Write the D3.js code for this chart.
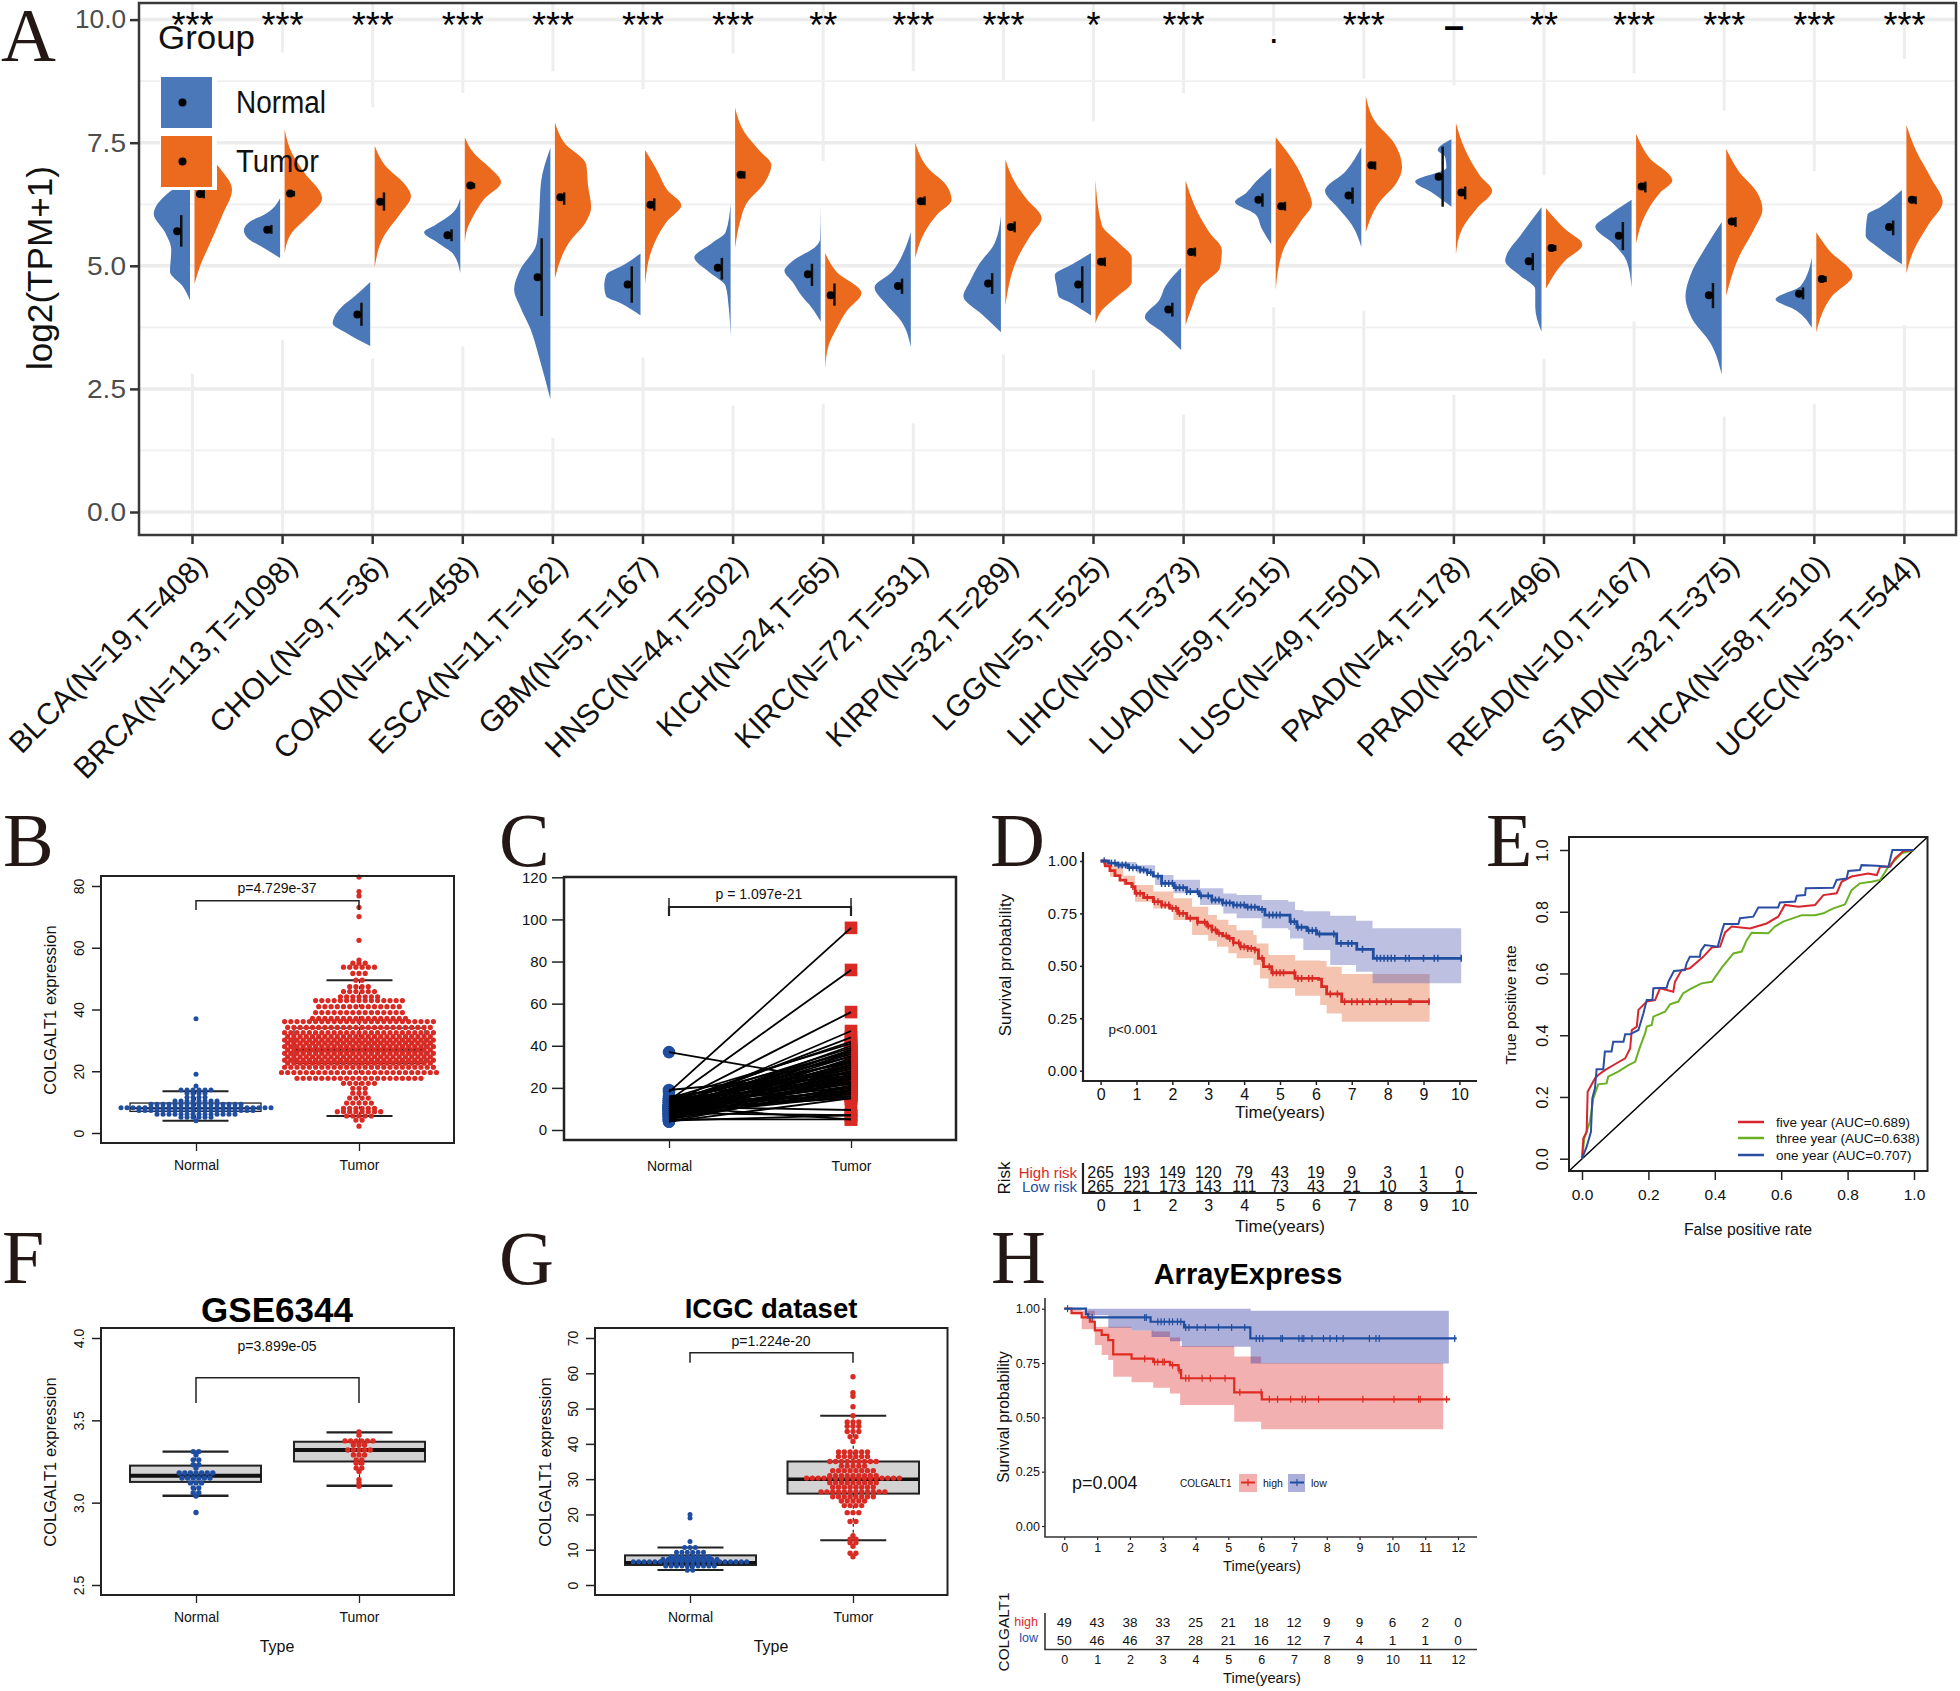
<!DOCTYPE html>
<html><head><meta charset="utf-8">
<script src="https://cdn.jsdelivr.net/npm/d3@7/dist/d3.min.js"></script>
<style>html,body{margin:0;padding:0;background:#fff}svg{display:block;font-family:"Liberation Sans",Arial,sans-serif}</style>
</head><body>
<script>
// ---------- Panel A data ----------
const cancers=["BLCA(N=19,T=408)","BRCA(N=113,T=1098)","CHOL(N=9,T=36)","COAD(N=41,T=458)","ESCA(N=11,T=162)","GBM(N=5,T=167)","HNSC(N=44,T=502)","KICH(N=24,T=65)","KIRC(N=72,T=531)","KIRP(N=32,T=289)","LGG(N=5,T=525)","LIHC(N=50,T=373)","LUAD(N=59,T=515)","LUSC(N=49,T=501)","PAAD(N=4,T=178)","PRAD(N=52,T=496)","READ(N=10,T=167)","STAD(N=32,T=375)","THCA(N=58,T=510)","UCEC(N=35,T=544)"];
const signif=["***","***","***","***","***","***","***","**","***","***","*","***",".","***","–","**","***","***","***","***"];
const signifLevel=[10,10,10,10,10,10,10,10,10,10,10,10,9.9,10,10,10,10,10,10,10];
const normalMean=[5.70,5.73,4.01,5.62,4.77,4.62,4.96,4.83,4.59,4.64,4.62,4.11,6.34,6.43,6.81,5.09,5.61,4.40,4.43,5.79];
const normalLow=[5.39,5.65,3.78,5.50,3.98,4.25,4.72,4.59,4.43,4.43,4.25,3.97,6.20,6.26,6.20,4.91,5.32,4.14,4.32,5.62];
const normalHigh=[6.03,5.83,4.25,5.74,5.56,4.99,5.16,5.04,4.74,4.85,4.99,4.25,6.47,6.59,7.42,5.26,5.89,4.65,4.56,5.92];
const tumorMean=[6.46,6.47,6.30,6.63,6.39,6.24,6.85,4.40,6.31,5.79,5.08,5.28,6.21,7.04,6.49,5.36,6.61,5.90,4.73,6.34];
const tumorLow=[6.37,6.41,6.12,6.57,6.24,6.12,6.77,4.19,6.23,5.68,4.99,5.19,6.12,6.95,6.35,5.30,6.49,5.79,4.67,6.25];
const tumorHigh=[6.55,6.52,6.49,6.68,6.49,6.37,6.92,4.64,6.41,5.90,5.17,5.37,6.30,7.12,6.61,5.42,6.71,5.99,4.79,6.41];
const gridGapTop=[9.93,9.33,8.22,8.51,8.95,8.59,9.31,7.13,8.95,8.77,7.93,8.51,9.67,8.8,8.66,6.84,8.91,8.15,6.92,9.2];
const gridGapBottom=[2.81,3.5,3.11,3.36,1.51,3.14,2.16,2.2,1.8,3.2,2.89,1.98,4.16,4.09,2.38,3.11,3.87,1.94,2.2,3.8];
// density profiles: [log2(TPM+1), relative density]
const normalProfiles=[
[[6.77,0],[6.48,35],[6.05,58],[5.68,40],[5.32,30],[4.88,32],[4.59,12],[4.30,0]],
[[6.37,0],[6.04,25],[5.90,48],[5.72,58],[5.54,50],[5.39,30],[5.16,0]],
[[4.67,0],[4.38,25],[4.16,46],[3.83,60],[3.65,40],[3.37,0]],
[[6.37,0],[6.04,15],[5.83,40],[5.68,58],[5.46,35],[5.25,12],[4.85,0]],
[[7.39,0],[6.70,15],[6.04,18],[5.46,22],[4.88,50],[4.52,58],[4.16,48],[3.72,32],[3.14,18],[2.29,0]],
[[5.25,0],[5.03,25],[4.81,55],[4.59,58],[4.38,55],[4.23,30],[3.99,0]],
[[6.26,0],[5.68,8],[5.46,30],[5.17,58],[4.88,35],[4.59,8],[4.16,3],[3.56,0]],
[[6.23,0],[5.54,1],[5.39,8],[5.10,45],[4.90,58],[4.67,45],[4.38,30],[4.16,15],[3.87,0]],
[[5.68,0],[5.32,10],[4.88,30],[4.56,58],[4.23,40],[3.87,15],[3.35,0]],
[[6.01,0],[5.46,10],[5.03,35],[4.67,50],[4.38,60],[4.01,30],[3.65,0]],
[[5.26,0],[5.03,30],[4.81,58],[4.59,55],[4.38,52],[4.23,30],[3.99,0]],
[[4.96,0],[4.59,25],[4.30,35],[3.96,58],[3.65,30],[3.29,0]],
[[6.99,0],[6.70,25],[6.48,40],[6.30,58],[6.04,25],[5.75,15],[5.44,0]],
[[7.41,0],[6.92,25],[6.52,58],[6.19,38],[5.83,15],[5.38,0]],
[[7.57,0],[7.35,22],[7.21,10],[6.99,8],[6.71,58],[6.48,30],[6.20,0]],
[[6.19,0],[5.68,30],[5.10,58],[4.81,35],[4.52,10],[4.16,10],[3.66,0]],
[[6.34,0],[6.04,35],[5.79,58],[5.46,30],[5.10,8],[4.56,0]],
[[5.89,0],[5.39,25],[4.81,50],[4.38,58],[3.94,48],[3.43,18],[2.79,0]],
[[5.17,0],[4.59,18],[4.32,58],[4.09,25],[3.74,0]],
[[6.54,0],[6.19,35],[6.04,55],[5.61,58],[5.39,40],[5.03,0]]];
const tumorProfiles=[
[[7.53,0],[6.99,40],[6.55,60],[6.04,45],[5.46,25],[5.03,10],[4.63,0]],
[[7.77,0],[7.28,12],[6.92,30],[6.37,60],[5.97,35],[5.68,12],[5.25,0]],
[[7.44,0],[6.99,20],[6.70,45],[6.41,58],[6.04,40],[5.61,15],[4.97,0]],
[[7.61,0],[7.28,15],[6.99,40],[6.70,58],[6.34,30],[6.04,15],[5.75,4],[5.46,0]],
[[7.91,0],[7.50,15],[7.06,50],[6.63,53],[6.19,58],[5.90,50],[5.46,22],[4.74,0]],
[[7.35,0],[6.92,20],[6.55,35],[6.23,58],[5.90,35],[5.46,15],[4.63,0]],
[[8.21,0],[7.71,15],[7.35,38],[7.05,58],[6.70,48],[6.26,18],[5.90,8],[5.36,0]],
[[5.26,0],[4.88,18],[4.45,58],[4.09,35],[3.72,18],[3.36,5],[2.91,0]],
[[7.50,0],[6.99,20],[6.63,50],[6.34,58],[6.04,35],[5.68,15],[5.16,0]],
[[7.16,0],[6.70,15],[6.34,35],[5.97,58],[5.61,40],[5.17,20],[4.19,0]],
[[6.75,0],[5.83,10],[5.46,38],[5.17,58],[4.67,58],[4.38,35],[4.09,10],[3.83,0]],
[[6.73,0],[6.12,18],[5.68,38],[5.32,58],[4.96,55],[4.59,25],[4.16,10],[3.80,0]],
[[7.61,0],[6.99,35],[6.63,48],[6.26,58],[5.90,40],[5.32,12],[4.51,0]],
[[8.45,0],[7.93,15],[7.50,45],[6.99,58],[6.70,50],[6.26,20],[5.68,0]],
[[7.90,0],[7.35,15],[6.84,38],[6.52,58],[6.19,35],[5.75,10],[5.23,0]],
[[6.17,0],[5.75,30],[5.43,58],[5.10,30],[4.54,0]],
[[7.68,0],[7.21,20],[6.73,58],[6.48,38],[6.04,15],[5.46,0]],
[[7.37,0],[6.92,20],[6.48,50],[6.15,58],[5.75,45],[5.17,20],[4.39,0]],
[[5.68,0],[5.32,20],[4.81,58],[4.38,25],[3.65,0]],
[[7.86,0],[7.35,15],[6.77,40],[6.30,58],[5.83,35],[5.32,12],[4.85,0]]];
const aTicks=[0,2.5,5,7.5,10];
const aMinor=[1.25,3.75,6.25,8.75];
// ---------- Panel B ---------- [value, number of dots in the row]
const bNormalRows=[[37,1],[19,1],[15.2,1],[13.9,6],[12.9,4],[11.6,4],[10.4,8],[9.3,16],[8.2,26],[7.3,20],[6.1,14],[5.1,6],[4,1]];
const bTumorRows=[[82.9,1],[78.2,1],[76.8,1],[73.1,1],[70.1,1],[62.4,1],[56,1],[55,3],[53.7,6],[51.7,3],[49.5,2],[47.4,4],[45.8,6],[44.1,7],[42.9,15],[40.9,14],[39,15],[37.1,16],[36.1,25],[34.2,24],[32.5,25],[31.2,24],[30.1,25],[29.1,24],[28,25],[26.9,24],[25.8,25],[24.7,24],[23.6,25],[22.6,24],[21.3,25],[19.6,26],[17.7,21],[16.1,6],[14.5,3],[12.9,3],[11.3,4],[9.7,5],[8,6],[6.9,8],[5.5,5],[4.2,2],[2.2,1]];
const bBoxNormal={q1:7,med:8,q3:9.7,lo:4,hi:13.5};
const bBoxTumor={q1:22.5,med:27,q3:34,lo:5.5,hi:49.5};
// ---------- Panel C ----------
const cNormal=[18,14,12,10,11,13,15,9,12,8,10,14,7,11,9,13,6,12,10,8,15,5,11,9,13,7,12,10,6,37,19,14,8,11,16,5,9,13,7,10,12,6,8,11,15,4,9,13,7,10,5,12,6,8,11,9,14,7,4,10,11,8,4.5,11,5];
const cTumor=[96,76,56,47,44,42,41,40,39,38,38,37,37,36,35,35,34,33,33,32,32,31,31,30,30,29,29,28,28,22,27,27,26,26,26,25,25,25,24,24,23,23,22,22,22,21,21,20,20,19,19,18,18,17,17,16,16,16,15,15,9.5,7,7,5,5];
// ---------- Panel D ----------
const dHighT=[0,.13,.26,.4,.54,.7,.87,.96,1.2,1.47,1.7,1.93,2.15,2.4,2.7,2.96,3.1,3.24,3.4,3.56,3.7,3.89,4.1,4.3,4.4,4.54,4.77,5.42,6.07,6.16,6.3,6.72,9.18];
const dHighS=[1,.977,.954,.93,.909,.893,.878,.846,.826,.806,.79,.774,.75,.727,.708,.69,.672,.655,.643,.631,.61,.591,.583,.576,.536,.496,.467,.44,.436,.401,.366,.329,.329];
const dLowT=[0,.22,.448,.77,1.1,1.3,1.47,1.7,2.05,2.4,2.75,3.1,3.4,3.7,4.05,4.4,4.58,5.28,5.47,5.75,6.02,6.58,7.14,7.6,10.07];
const dLowS=[1,.99,.981,.968,.957,.945,.928,.893,.873,.854,.834,.814,.80,.79,.78,.769,.742,.711,.684,.668,.652,.607,.579,.536,.536];
const dHighCiT=[0,.26,.63,.96,1.47,2.03,2.55,3,3.24,3.56,3.79,4.26,4.35,4.44,4.68,5.42,6.12,6.3,6.72,9.17];
const dHighUp=[1,.98,.93,.886,.854,.822,.782,.742,.72,.695,.67,.647,.607,.607,.552,.525,.523,.496,.461,.461];
const dHighLo=[1,.925,.885,.806,.774,.719,.647,.62,.591,.56,.536,.504,.504,.44,.393,.358,.313,.273,.234,.234];
const dLowCiT=[0,.5,1,1.52,2.03,2.77,3.42,3.79,4.49,5.23,5.28,5.42,5.65,6.4,7.12,7.58,10.05];
const dLowUp=[1,.995,.98,.933,.91,.87,.845,.838,.814,.806,.806,.766,.76,.739,.715,.679,.679];
const dLowLo=[1,.965,.945,.886,.846,.79,.75,.727,.679,.671,.631,.631,.576,.504,.472,.417,.417];
const dHighCens=[.9,1,1.1,1.3,1.5,1.6,1.7,1.8,1.9,2,2.1,2.2,2.3,2.5,2.7,2.9,3,3.1,3.2,3.3,3.5,3.6,3.7,3.85,3.9,4,4.1,4.2,4.3,4.5,4.7,4.8,4.9,5,5.1,5.4,5.5,5.6,5.8,5.9,6.4,6.6,6.8,7,7.15,7.3,7.5,7.7,7.95,8.1,8.6,8.65,9.15];
const dLowCens=[.1,.3,.4,.5,.6,.7,.8,.9,1,1.1,1.2,1.3,1.4,1.6,1.7,1.8,1.9,2,2.1,2.2,2.3,2.4,2.5,2.7,2.8,3,3.1,3.2,3.3,3.4,3.5,3.6,3.7,3.8,3.9,4,4.1,4.2,4.3,4.5,4.7,4.8,4.9,5,5.3,5.4,5.5,5.6,5.8,5.9,6,6.1,6.5,6.7,6.9,7,7.3,7.7,7.8,7.9,8,8.1,8.2,8.5,8.6,9,9.3,9.4,10.05];
const dRiskHigh=[265,193,149,120,79,43,19,9,3,1,0];
const dRiskLow=[265,221,173,143,111,73,43,21,10,3,1];
// ---------- Panel E ----------
const rocOneX=[0,.014,.027,.031,.039,.044,.064,.069,.089,.094,.125,.13,.145,.17,.185,.195,.212,.215,.255,.26,.277,.31,.315,.325,.355,.358,.37,.409,.421,.428,.471,.476,.516,.531,.591,.596,.642,.647,.672,.674,.757,.767,.797,.802,.837,.842,.888,.923,.935,1];
const rocOneY=[0,.039,.087,.195,.228,.29,.29,.347,.347,.379,.379,.403,.403,.417,.471,.514,.514,.552,.554,.573,.608,.611,.633,.654,.654,.673,.692,.687,.735,.76,.76,.779,.784,.814,.814,.83,.833,.852,.854,.876,.878,.903,.908,.932,.935,.951,.949,.946,1,1];
const rocFiveX=[0,.004,.014,.017,.039,.049,.069,.099,.13,.145,.15,.165,.17,.195,.22,.235,.275,.28,.30,.325,.365,.391,.416,.431,.451,.506,.556,.591,.611,.652,.702,.727,.767,.782,.812,.862,.888,.898,.928,.943,.968,1];
const rocFiveY=[0,.066,.087,.217,.26,.271,.287,.306,.325,.357,.417,.428,.482,.509,.514,.552,.541,.573,.611,.617,.654,.684,.687,.733,.752,.746,.762,.784,.822,.816,.822,.854,.86,.897,.914,.924,.919,.946,.946,.973,.997,1];
const rocThreeX=[0,.007,.024,.034,.049,.074,.079,.109,.14,.16,.175,.19,.195,.21,.215,.25,.265,.29,.305,.33,.36,.391,.421,.456,.481,.496,.511,.561,.581,.606,.662,.702,.727,.757,.792,.812,.837,.872,.898,.923,.963,1];
const rocThreeY=[0,.066,.12,.195,.241,.244,.266,.282,.303,.314,.363,.406,.428,.433,.46,.476,.5,.509,.536,.552,.568,.573,.619,.665,.671,.708,.732,.73,.752,.768,.789,.789,.795,.811,.824,.87,.892,.897,.903,.946,.989,1];
const rocLabels=["five year (AUC=0.689)","three year (AUC=0.638)","one year (AUC=0.707)"];
// ---------- Panel F ----------
const fNormalRows=[[3.31,2],[3.29,1],[3.26,2],[3.23,2],[3.21,1],[3.18,7],[3.15,6],[3.12,3],[3.09,2],[3.06,2],[3.04,1],[2.94,1]];
const fTumorRows=[[3.43,1],[3.41,1],[3.375,6],[3.35,3],[3.32,5],[3.29,3],[3.26,2],[3.24,2],[3.21,2],[3.19,1],[3.14,1],[3.12,1],[3.1,1]];
const fBoxNormal={q1:3.126,med:3.164,q3:3.225,lo:3.042,hi:3.31};
const fBoxTumor={q1:3.25,med:3.32,q3:3.37,lo:3.103,hi:3.427};
// ---------- Panel G ----------
const gNormalRows=[[20,1],[19,1],[12.3,1],[10.6,3],[9.3,6],[8,8],[7.3,11],[6.6,22],[5.4,10],[4.2,2]];
const gTumorRows=[[59,1],[54.5,1],[53.5,1],[50.5,1],[48,1],[46.2,3],[45,3],[43.5,3],[42,2],[40.7,1],[37.7,6],[36.4,6],[35,9],[33.7,5],[32.4,8],[31,9],[30.3,17],[29,9],[27.7,8],[26.4,12],[25,8],[23.8,5],[22.5,4],[20.5,3],[18,2],[14,1],[13,2],[12,2],[11,1],[9,2],[8,1]];
const gBoxNormal={q1:5.67,med:6.4,q3:8.4,lo:4.25,hi:10.6};
const gBoxTumor={q1:25.9,med:30,q3:35,lo:12.7,hi:48};
// ---------- Panel H ----------
const hHighT=[0,.22,.53,.78,.93,1.14,1.34,1.49,2.05,2.71,3.22,3.48,3.56,5.18,6.02,11.76];
const hHighS=[1,.98,.96,.94,.90,.88,.855,.79,.77,.755,.74,.717,.68,.615,.583,.583];
const hLowT=[0,.66,.73,2.63,3.65,5.67,11.96];
const hLowS=[1,.975,.96,.94,.914,.863,.863];
const hHighCiT=[0,.22,.53,.93,1.14,1.34,1.49,2.05,2.71,3.22,3.53,5.18,6,11.55];
const hHighUp=[1,1,.99,.917,.917,.917,.917,.90,.895,.868,.828,.78,.75,.75];
const hHighLo=[1,.975,.905,.833,.787,.764,.687,.661,.636,.61,.557,.48,.445,.445];
const hLowCiT=[0,.7,1.34,2.05,2.66,3.22,3.58,5.68,11.72];
const hLowUp=[1,1,1,1,1,1,1,.99,.99];
const hLowLo=[1,.97,.912,.90,.87,.85,.825,.748,.748];
const hHighCens=[2.45,2.75,2.85,3,3.05,3.3,3.5,3.7,3.8,4.2,4.45,4.9,5.35,6,6.25,6.5,6.9,7.25,7.35,7.75,9.1,10.05,10.8,10.85,11.65];
const hLowCens=[.1,.85,2.45,2.5,2.85,2.95,3.05,3.2,3.3,3.45,3.55,3.7,3.8,4.05,4.3,4.7,5.1,5.5,5.85,5.95,6.05,6.6,6.65,7.15,7.25,7.3,7.55,7.9,8.1,8.3,8.5,9.3,9.5,9.6,11.9];
const hRiskHigh=[49,43,38,33,25,21,18,12,9,9,6,2,0];
const hRiskLow=[50,46,46,37,28,21,16,12,7,4,1,1,0];

// ---------- helpers ----------
const RED="#d92a24",BLUE="#1f4ea1",BLUEA="#4a78b8",ORANGE="#ec6a1e";
const svg=d3.select("body").append("svg").attr("width",1960).attr("height",1691);
function txt(x,y,s,o={}){
  const t=svg.append("text").attr("x",x).attr("y",y).text(s)
    .attr("font-size",o.size||14).attr("text-anchor",o.anchor||"middle")
    .attr("dominant-baseline",o.base||"central").attr("fill",o.fill||"#111");
  if(o.weight)t.attr("font-weight",o.weight);
  if(o.family)t.attr("font-family",o.family);
  if(o.rot!==undefined)t.attr("transform",`rotate(${o.rot},${x},${y})`);
  if(o.len)t.attr("textLength",o.len).attr("lengthAdjust","spacingAndGlyphs");
  return t;
}
function letter(x,y,s){txt(x,y,s,{size:76,anchor:"start",base:"alphabetic",family:"'Liberation Serif',serif",fill:"#231815"});}
function styleAxis(g,o={}){
  g.selectAll("path.domain").remove();
  g.selectAll("line").attr("stroke",o.color||"#222").attr("stroke-width",o.w||1.5);
  g.selectAll("text").attr("font-size",o.size||14).attr("fill",o.fill||"#111").attr("font-family","'Liberation Sans',sans-serif");
}
function frame(x0,x1,y0,y1,w,c){svg.append("rect").attr("x",x0).attr("y",y0).attr("width",x1-x0).attr("height",y1-y0).attr("fill","none").attr("stroke",c||"#222").attr("stroke-width",w||2);}
function rotTicks(g,offset){g.selectAll("text").attr("x",0).attr("dy",null).attr("text-anchor","middle").attr("dominant-baseline","central").attr("transform",`translate(${-offset},0) rotate(-90)`);}
function swarm(rows,cx,dx){const p=[];rows.forEach(([v,c])=>{d3.range(c).forEach(j=>p.push({v,x:cx+(j-(c-1)/2)*dx}));});return p;}
function boxplot(y,b,x0,x1,capw,o={}){
  const cx=(x0+x1)/2,g=svg.append("g").attr("stroke","#222");
  g.append("line").attr("x1",cx).attr("x2",cx).attr("y1",y(b.hi)).attr("y2",y(b.lo)).attr("stroke-dasharray","3,3").attr("stroke-width",1.2);
  g.append("rect").attr("x",x0).attr("width",x1-x0).attr("y",y(b.q3)).attr("height",y(b.q1)-y(b.q3)).attr("fill",o.fill||"#d3d3d3").attr("stroke-width",o.bw||1.5);
  g.append("line").attr("x1",x0).attr("x2",x1).attr("y1",y(b.med)).attr("y2",y(b.med)).attr("stroke","#111").attr("stroke-width",o.mw||3.5);
  [b.hi,b.lo].forEach(v=>g.append("line").attr("x1",cx-capw/2).attr("x2",cx+capw/2).attr("y1",y(v)).attr("y2",y(v)).attr("stroke-width",o.cw||2));
}
function dots(pts,y,color,r){svg.append("g").selectAll("circle").data(pts).join("circle").attr("cx",d=>d.x).attr("cy",d=>y(d.v)).attr("r",r).attr("fill",color);}
function bracket(x0,x1,yTop,yEnd,w){svg.append("path").attr("d",d3.line()([[x0,yEnd],[x0,yTop],[x1,yTop],[x1,yEnd]])).attr("fill","none").attr("stroke","#222").attr("stroke-width",w||1.5);}
function catAxis(cats,xs,y,size){
  const x=d3.scaleOrdinal().domain(cats).range(xs);
  const g=svg.append("g").attr("transform",`translate(0,${y})`).call(d3.axisBottom(x).tickSize(8).tickPadding(9));
  styleAxis(g,{size:size||14,w:1.3});
  return g;
}
function survival(x,y,T,S,color,w){svg.append("path").attr("d",d3.line().x((d,i)=>x(T[i])).y((d,i)=>y(S[i])).curve(d3.curveStepAfter)(T)).attr("fill","none").attr("stroke",color).attr("stroke-width",w);}
function band(x,y,T,L,U,color,op){svg.append("path").attr("d",d3.area().x((d,i)=>x(T[i])).y0((d,i)=>y(L[i])).y1((d,i)=>y(U[i])).curve(d3.curveStepAfter)(T)).attr("fill",color).attr("opacity",op);}
function censor(x,y,T,S,C,color,h,w){svg.append("g").selectAll("line").data(C).join("line").attr("x1",d=>x(d)).attr("x2",d=>x(d)).attr("y1",d=>y(S[d3.bisectRight(T,d)-1])-h).attr("y2",d=>y(S[d3.bisectRight(T,d)-1])+h).attr("stroke",color).attr("stroke-width",w);}

// ---------- Panel A ----------
(function(){
  const x=d3.scaleBand().domain(cancers).range([147.45,1949.45]).padding(0);
  const cx=d=>x(d)+x.bandwidth()/2;
  const L=139,R=1956,T=3,B=535;
  const y=d3.scaleLinear().domain([0,10]).range([512,19.6]);
  const w=d3.scaleLinear().domain([0,60]).range([0,37.5]);
  const xs=cancers.map(cx);
  svg.append("g").selectAll("line").data(xs).join("line").attr("x1",d=>d).attr("x2",d=>d).attr("y1",T).attr("y2",B).attr("stroke","#eeeeee").attr("stroke-width",3);
  svg.append("g").selectAll("line").data(xs).join("line").attr("x1",d=>d).attr("x2",d=>d).attr("y1",(d,i)=>y(gridGapTop[i])).attr("y2",(d,i)=>y(gridGapBottom[i])).attr("stroke","#fff").attr("stroke-width",5);
  svg.append("g").selectAll("line").data(aMinor).join("line").attr("x1",L).attr("x2",R).attr("y1",d=>y(d)).attr("y2",d=>y(d)).attr("stroke","#f0f0f0").attr("stroke-width",1.8);
  svg.append("g").selectAll("line").data(aTicks).join("line").attr("x1",L).attr("x2",R).attr("y1",d=>y(d)).attr("y2",d=>y(d)).attr("stroke","#ececec").attr("stroke-width",3.5);
  const gv=svg.append("g");
  cancers.forEach((c,i)=>{
    const cc=xs[i];
    const n=d3.area().y(d=>y(d[0])).x0(cc-2.5).x1(d=>cc-2.5-w(d[1])).curve(d3.curveMonotoneY);
    const t=d3.area().y(d=>y(d[0])).x0(cc+2).x1(d=>cc+2+w(d[1])).curve(d3.curveMonotoneY);
    gv.append("path").attr("d",n(normalProfiles[i])).attr("fill",BLUEA);
    gv.append("path").attr("d",t(tumorProfiles[i])).attr("fill",ORANGE);
  });
  const gm=svg.append("g");
  cancers.forEach((c,i)=>{
    const cc=xs[i];
    gm.append("line").attr("x1",cc-11.25).attr("x2",cc-11.25).attr("y1",y(normalLow[i])).attr("y2",y(normalHigh[i])).attr("stroke","#111").attr("stroke-width",2.5);
    gm.append("line").attr("x1",cc+11.25).attr("x2",cc+11.25).attr("y1",y(tumorLow[i])).attr("y2",y(tumorHigh[i])).attr("stroke","#111").attr("stroke-width",2.5);
    gm.append("circle").attr("cx",cc-15.3).attr("cy",y(normalMean[i])).attr("r",4).attr("fill","#000");
    gm.append("circle").attr("cx",cc+7.5).attr("cy",y(tumorMean[i])).attr("r",4).attr("fill","#000");
  });
  // legend
  svg.append("rect").attr("x",160).attr("y",75).attr("width",57).attr("height",115).attr("fill","#fff");
  svg.append("rect").attr("x",161).attr("y",77).attr("width",51).attr("height",51).attr("fill",BLUEA);
  svg.append("rect").attr("x",161).attr("y",136).attr("width",51).attr("height",51).attr("fill",ORANGE);
  svg.append("circle").attr("cx",182.5).attr("cy",102.5).attr("r",4).attr("fill","#000");
  svg.append("circle").attr("cx",182.5).attr("cy",161.5).attr("r",4).attr("fill","#000");
  txt(158,37,"Group",{size:34,anchor:"start",len:97});
  txt(236,102,"Normal",{size:31,anchor:"start",len:90});
  txt(236,161,"Tumor",{size:31,anchor:"start",len:83});
  // signif
  cancers.forEach((c,i)=>txt(xs[i],y(signifLevel[i])+18,signif[i],{size:36,base:"alphabetic",fill:"#000",weight:signif[i]==="–"?"bold":null}));
  frame(L,R,T,B,2.5,"#3a3a3a");
  const gy=svg.append("g").attr("transform",`translate(${L},0)`).call(d3.axisLeft(y).tickValues(aTicks).tickFormat(d3.format(".1f")).tickSize(9).tickPadding(4));
  styleAxis(gy,{size:26,fill:"#4d4d4d",w:2.5,color:"#333"});
  gy.selectAll("text").attr("textLength",d=>d===10?51:39).attr("lengthAdjust","spacingAndGlyphs");
  txt(39,268,"log2(TPM+1)",{size:35,rot:-90,len:204});
  const gx=svg.append("g").attr("transform",`translate(0,${B})`).call(d3.axisBottom(x).tickSize(9).tickFormat(""));
  styleAxis(gx,{w:2.5,color:"#333"});
  cancers.forEach((c,i)=>txt(xs[i]+9,560,c,{size:30,anchor:"end",rot:-45,fill:"#111"}));
  letter(1,61,"A");
})();

// ---------- Panel B ----------
(function(){
  const y=d3.scaleLinear().domain([0,80]).range([1133,886]);
  const cy=[196,359];
  boxplot(y,bBoxNormal,130,261,66,{mw:2,cw:2,bw:1.3,fill:"none"});
  boxplot(y,bBoxTumor,294,425,66,{mw:2,cw:2,bw:1.3,fill:"none"});
  dots(swarm(bNormalRows,cy[0],6),y,BLUE,2.5);
  dots(swarm(bTumorRows,cy[1],6.2),y,RED,2.6);
  frame(101,454,876,1143,2);
  const g=svg.append("g").attr("transform","translate(101,0)").call(d3.axisLeft(y).tickValues([0,20,40,60,80]).tickSize(9));
  styleAxis(g,{size:14});rotTicks(g,22);
  catAxis(["Normal","Tumor"],cy,1143);
  txt(50,1010,"COLGALT1 expression",{size:16.5,rot:-90});
  bracket(cy[0],cy[1],900.7,910);
  txt(277,888,"p=4.729e-37",{size:14});
  letter(3,866,"B");
})();

// ---------- Panel C ----------
(function(){
  const y=d3.scaleLinear().domain([0,120]).range([1130,877.3]);
  const cxs=[669,851];
  const pairs=cNormal.map((n,i)=>[n,cTumor[i]]);
  svg.append("g").selectAll("circle").data(cNormal).join("circle").attr("cx",cxs[0]).attr("cy",d=>y(d)).attr("r",6.3).attr("fill",BLUE);
  svg.append("g").selectAll("rect").data(cTumor).join("rect").attr("x",cxs[1]-6.3).attr("width",12.6).attr("y",d=>y(d)-6.3).attr("height",12.6).attr("fill",RED);
  svg.append("g").selectAll("line").data(pairs).join("line").attr("x1",cxs[0]).attr("x2",cxs[1]).attr("y1",d=>y(d[0])).attr("y2",d=>y(d[1])).attr("stroke","#000").attr("stroke-width",1.8);
  frame(564,956,877,1140,2.5);
  const g=svg.append("g").attr("transform","translate(564,0)").call(d3.axisLeft(y).tickValues([0,20,40,60,80,100,120]).tickSize(12).tickPadding(5));
  styleAxis(g,{size:15});
  catAxis(["Normal","Tumor"],cxs,1140).selectAll("text").attr("dy","1em");
  bracket(cxs[0],cxs[1],907,916,2.2);
  svg.append("path").attr("d",d3.line()([[cxs[0],898],[cxs[0],907]])).attr("stroke","#222").attr("stroke-width",1.5);
  svg.append("path").attr("d",d3.line()([[cxs[1],898],[cxs[1],907]])).attr("stroke","#222").attr("stroke-width",1.5);
  txt(759,894,"p = 1.097e-21",{size:14});
  letter(499,866,"C");
})();

// ---------- Panel D ----------
(function(){
  const x=d3.scaleLinear().domain([0,10]).range([1100.6,1459.4]);
  const y=d3.scaleLinear().domain([0,1]).range([1070.7,861]);
  band(x,y,dHighCiT,dHighLo,dHighUp,"#e8845c",.48);
  band(x,y,dLowCiT,dLowLo,dLowUp,"#5a62b4",.4);
  censor(x,y,dHighT,dHighS,dHighCens,RED,3.5,1.5);
  censor(x,y,dLowT,dLowS,dLowCens,BLUE,3.5,1.5);
  survival(x,y,dHighT,dHighS,RED,2.8);
  survival(x,y,dLowT,dLowS,BLUE,2.8);
  const gy=svg.append("g").attr("transform","translate(1083,0)").call(d3.axisLeft(y).tickValues([0,.25,.5,.75,1]).tickFormat(d3.format(".2f")).tickSize(3).tickPadding(3));
  styleAxis(gy,{size:15});
  const gx=svg.append("g").attr("transform","translate(0,1081)").call(d3.axisBottom(x).tickValues(d3.range(0,11)).tickSize(4).tickPadding(4));
  styleAxis(gx,{size:16});
  svg.append("path").attr("d",d3.line()([[1083,852],[1083,1081],[1477,1081]])).attr("fill","none").attr("stroke","#222").attr("stroke-width",2.2);
  txt(1005,965,"Survival probability",{size:17,rot:-90});
  txt(1280,1112,"Time(years)",{size:17});
  txt(1133,1029,"p<0.001",{size:13.5});
  letter(990,866,"D");
  // risk table
  const riskY=[1172,1186];
  dRiskHigh.forEach((v,i)=>txt(x(i),riskY[0],v,{size:16}));
  dRiskLow.forEach((v,i)=>txt(x(i),riskY[1],v,{size:16}));
  txt(1077,riskY[0],"High risk",{size:15,anchor:"end",fill:RED});
  txt(1077,riskY[1],"Low risk",{size:15,anchor:"end",fill:BLUE});
  txt(1004,1178,"Risk",{size:17,rot:-90});
  const gx2=svg.append("g").attr("transform","translate(0,1193)").call(d3.axisBottom(x).tickValues(d3.range(0,11)).tickSize(0).tickPadding(7));
  styleAxis(gx2,{size:16});
  svg.append("path").attr("d",d3.line()([[1083,1163],[1083,1193],[1477,1193]])).attr("fill","none").attr("stroke","#222").attr("stroke-width",2.2);
  txt(1280,1226,"Time(years)",{size:17});
})();

// ---------- Panel E ----------
(function(){
  const x=d3.scaleLinear().domain([0,1]).range([1582,1914]);
  const y=d3.scaleLinear().domain([0,1]).range([1158.7,850]);
  const L=1569,R=1927.5,T=837,B=1171;
  svg.append("path").attr("d",d3.line()([[L,B],[R,T]])).attr("stroke","#000").attr("stroke-width",1.5);
  const roc=(X,Y,c)=>svg.append("path").attr("d",d3.line().x((d,i)=>x(X[i])).y((d,i)=>y(Y[i]))(X)).attr("fill","none").attr("stroke",c).attr("stroke-width",2);
  roc(rocThreeX,rocThreeY,"#6ab023");
  roc(rocFiveX,rocFiveY,"#d7262d");
  roc(rocOneX,rocOneY,"#2b4ea2");
  frame(L,R,T,B,2);
  const gx=svg.append("g").attr("transform",`translate(0,${B})`).call(d3.axisBottom(x).tickValues([0,.2,.4,.6,.8,1]).tickFormat(d3.format(".1f")).tickSize(9).tickPadding(9));
  styleAxis(gx,{size:15.5});
  const gy=svg.append("g").attr("transform",`translate(${L},0)`).call(d3.axisLeft(y).tickValues([0,.2,.4,.6,.8,1]).tickFormat(d3.format(".1f")).tickSize(9));
  styleAxis(gy,{size:16});rotTicks(gy,27);
  txt(1510,1005,"True positive rate",{size:15.5,rot:-90});
  txt(1748,1229,"False positive rate",{size:15.8});
  const cols=["#d7262d","#6ab023","#2b4ea2"],ly=[1122,1138,1155];
  rocLabels.forEach((s,i)=>{
    svg.append("line").attr("x1",1738).attr("x2",1764).attr("y1",ly[i]).attr("y2",ly[i]).attr("stroke",cols[i]).attr("stroke-width",2.5);
    txt(1776,ly[i],s,{size:13.5,anchor:"start"});
  });
  letter(1486,866,"E");
})();

// ---------- Panel F ----------
(function(){
  const y=d3.scaleLinear().domain([2.5,4]).range([1585,1338]);
  const cxs=[196,359];
  boxplot(y,fBoxNormal,130,261,66,{mw:4,cw:2.4,bw:2});
  boxplot(y,fBoxTumor,294,425,66,{mw:4,cw:2.4,bw:2});
  dots(swarm(fNormalRows,cxs[0],5.6),y,BLUE,2.7);
  dots(swarm(fTumorRows,cxs[1],5.6),y,RED,2.7);
  frame(101,454,1328,1595,2);
  const g=svg.append("g").attr("transform","translate(101,0)").call(d3.axisLeft(y).tickValues([2.5,3,3.5,4]).tickFormat(d3.format(".1f")).tickSize(9));
  styleAxis(g,{size:14});rotTicks(g,22);
  catAxis(["Normal","Tumor"],cxs,1595);
  txt(50,1462,"COLGALT1 expression",{size:16.5,rot:-90});
  txt(277,1646,"Type",{size:16});
  txt(277,1309,"GSE6344",{size:35,weight:"bold",fill:"#000"});
  txt(277,1346,"p=3.899e-05",{size:14});
  bracket(cxs[0],cxs[1],1377.7,1403);
  letter(2,1283,"F");
})();

// ---------- Panel G ----------
(function(){
  const y=d3.scaleLinear().domain([0,70]).range([1585,1338]);
  const cxs=[690,853];
  boxplot(y,gBoxNormal,625,756,66,{mw:3,cw:2,bw:2});
  boxplot(y,gBoxTumor,787.5,919,66,{mw:3.5,cw:2,bw:2});
  dots(swarm(gNormalRows,cxs[0],5.4),y,BLUE,2.5);
  dots(swarm(gTumorRows,cxs[1],5.8),y,RED,2.7);
  frame(595,947.5,1328,1595,2);
  const g=svg.append("g").attr("transform","translate(595,0)").call(d3.axisLeft(y).tickValues(d3.range(0,71,10)).tickSize(9));
  styleAxis(g,{size:14});rotTicks(g,22);
  catAxis(["Normal","Tumor"],cxs,1595);
  txt(545,1462,"COLGALT1 expression",{size:16.5,rot:-90});
  txt(771,1646,"Type",{size:16});
  txt(771,1308,"ICGC dataset",{size:27.5,weight:"bold",fill:"#000"});
  txt(771,1341,"p=1.224e-20",{size:14});
  bracket(cxs[0],cxs[1],1352.7,1362.7);
  letter(499,1284,"G");
})();

// ---------- Panel H ----------
(function(){
  const x=d3.scaleLinear().domain([0,12]).range([1064.3,1458]);
  const y=d3.scaleLinear().domain([0,1]).range([1526,1308.7]);
  band(x,y,hHighCiT,hHighLo,hHighUp,"#e23a3a",.4);
  band(x,y,hLowCiT,hLowLo,hLowUp,"#2f37a0",.4);
  censor(x,y,hHighT,hHighS,hHighCens,RED,3.5,1.2);
  censor(x,y,hLowT,hLowS,hLowCens,BLUE,3.5,1.2);
  survival(x,y,hHighT,hHighS,"#e02b20",2.2);
  survival(x,y,hLowT,hLowS,BLUE,2.2);
  const gy=svg.append("g").attr("transform","translate(1045,0)").call(d3.axisLeft(y).tickValues([0,.25,.5,.75,1]).tickFormat(d3.format(".2f")).tickSize(3).tickPadding(2));
  styleAxis(gy,{size:12.5,w:1.2});
  const gx=svg.append("g").attr("transform","translate(0,1537)").call(d3.axisBottom(x).tickValues(d3.range(0,13)).tickSize(3).tickPadding(3));
  styleAxis(gx,{size:12.5,w:1.2});
  svg.append("path").attr("d",d3.line()([[1045,1298],[1045,1537],[1477,1537]])).attr("fill","none").attr("stroke","#333").attr("stroke-width",1.6);
  txt(1003,1417,"Survival probability",{size:15.7,rot:-90});
  txt(1262,1566,"Time(years)",{size:14.7});
  txt(1248,1274,"ArrayExpress",{size:29,weight:"bold",fill:"#000"});
  txt(1072,1483,"p=0.004",{size:18,anchor:"start"});
  txt(1180,1483,"COLGALT1",{size:10,anchor:"start"});
  svg.append("rect").attr("x",1239).attr("y",1474).attr("width",18).attr("height",18).attr("fill","#e23a3a").attr("opacity",.4);
  svg.append("rect").attr("x",1288).attr("y",1474).attr("width",17).attr("height",18).attr("fill","#2f37a0").attr("opacity",.4);
  [[1241,1255,"#e02b20"],[1290,1304,BLUE]].forEach(([a,b,c])=>{
    svg.append("line").attr("x1",a).attr("x2",b).attr("y1",1482.5).attr("y2",1482.5).attr("stroke",c).attr("stroke-width",2);
    svg.append("line").attr("x1",(a+b)/2).attr("x2",(a+b)/2).attr("y1",1479).attr("y2",1486).attr("stroke",c).attr("stroke-width",1.2);
  });
  txt(1263,1483,"high",{size:10.5,anchor:"start"});
  txt(1311,1483,"low",{size:10.5,anchor:"start"});
  letter(991,1283,"H");
  // risk table
  hRiskHigh.forEach((v,i)=>txt(x(i),1622,v,{size:13.5}));
  hRiskLow.forEach((v,i)=>txt(x(i),1640,v,{size:13.5}));
  txt(1038,1621.7,"high",{size:12.5,anchor:"end",fill:RED});
  txt(1038,1638,"low",{size:12.5,anchor:"end",fill:BLUE});
  txt(1003,1632,"COLGALT1",{size:15.3,rot:-90});
  const gx2=svg.append("g").attr("transform","translate(0,1649.5)").call(d3.axisBottom(x).tickValues(d3.range(0,13)).tickSize(0).tickPadding(6));
  styleAxis(gx2,{size:12.5});
  svg.append("path").attr("d",d3.line()([[1045,1613],[1045,1649.5],[1477,1649.5]])).attr("fill","none").attr("stroke","#333").attr("stroke-width",1.6);
  txt(1262,1678,"Time(years)",{size:14.7});
})();
</script>
</body></html>
